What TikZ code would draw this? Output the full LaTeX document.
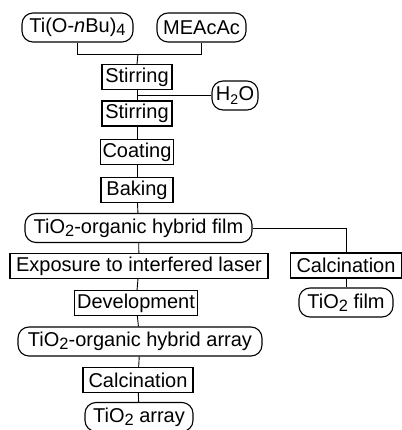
\documentclass[tikz,border=0pt]{standalone}
\usepackage{fontspec}
\setmainfont{Liberation Sans}
\newcommand{\lowsub}[1]{\raisebox{-0.28ex}{\scalebox{0.82}{#1}}}
\begin{document}
\begin{tikzpicture}[x=1pt,y=-1pt,
  every node/.style={font=\fontsize{20}{22}\selectfont, line width=1.1pt, draw, inner xsep=1pt, inner ysep=0pt},
  sq/.style={rectangle, minimum height=25pt},
  rd/.style={rectangle, rounded corners=11pt, minimum height=29pt, inner xsep=2pt},
  conn/.style={line width=0.9pt}]
\useasboundingbox (0,0) rectangle (401,430);
\node[rd, minimum width=111pt] (ti) at (77.5,27.5) {Ti(O-\textit{n}Bu)\lowsub{4}};
\node[rd, minimum width=89pt] (me) at (201.5,27.5) {MEAcAc};
\node[sq, minimum width=70pt] (st1) at (137,77) {Stirring};
\node[rd, minimum width=46pt] (h2o) at (235,95.5) {H\textsubscript{2}O};
\node[sq, minimum width=70pt] (st2) at (137,113.5) {Stirring};
\node[sq, minimum width=73pt] (coat) at (137,152) {Coating};
\node[sq, minimum width=72pt] (bake) at (137,190) {Baking};
\node[rd, minimum width=227pt] (film) at (138.5,228) {TiO\lowsub{2}-organic hybrid film};
\node[sq, minimum width=258pt] (exp) at (139,266) {Exposure to interfered laser};
\node[sq, minimum width=111pt] (calc1) at (346,265.5) {Calcination};
\node[rd, minimum width=94pt] (tf) at (346,302.5) {TiO\lowsub{2} film};
\node[sq, minimum width=123pt] (dev) at (136,303) {Development};
\node[rd, minimum width=244pt] (arr) at (140,341.5) {TiO\lowsub{2}-organic hybrid array};
\node[sq, minimum width=110pt] (calc2) at (138,380) {Calcination};
\node[rd, minimum width=108pt] (ta) at (139,417) {TiO\lowsub{2} array};
\coordinate (j) at (138,54);
\draw[conn] (ti.south) -- (ti.south |- j) -- (me.south |- j) -- (me.south);
\draw[conn] (j) -- (st1.north);
\draw[conn] (st1) -- (st2);
\draw[conn] (h2o.west) -- (h2o.west -| st1.south);
\draw[conn] (st2) -- (coat);
\draw[conn] (coat) -- (bake);
\draw[conn] (bake) -- (film);
\draw[conn] (film.east) -| (calc1.north);
\draw[conn] (calc1) -- (tf);
\draw[conn] (film) -- (exp);
\draw[conn] (exp) -- (dev);
\draw[conn] (dev) -- (arr);
\draw[conn] (arr) -- (calc2);
\draw[conn] (calc2) -- (ta);
\end{tikzpicture}
\end{document}
